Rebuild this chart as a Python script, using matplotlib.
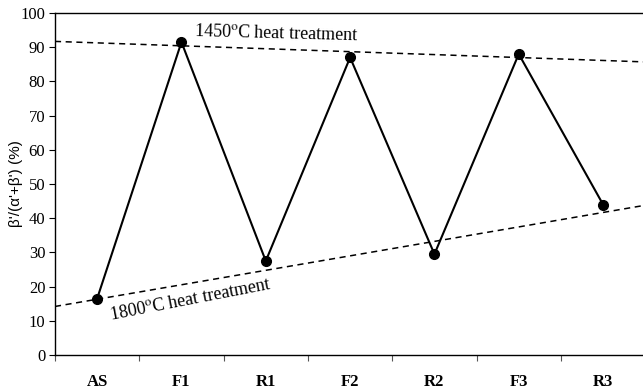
import matplotlib.pyplot as plt
import numpy as np

plt.rcParams['mathtext.fontset'] = 'stix'

# sample sequence and beta' fraction
samples = ['AS', 'F1', 'R1', 'F2', 'R2', 'F3', 'R3']
beta_frac = [16.5, 91.5, 27.5, 87.0, 29.5, 88.0, 44.0]

# dashed guide lines, values at the left and right plot edges
trend_x = [-0.5, 6.5]
trend_1450 = [91.7, 85.7]
trend_1800 = [14.2, 43.8]

fig = plt.figure(figsize=(6.43, 3.91), dpi=100)
ax = fig.add_axes([0.0855, 0.092, 0.918, 0.8747])

x = np.arange(len(samples))
ax.plot(x, beta_frac, color='black', lw=1.5, marker='o', markersize=7, zorder=3)
ax.plot(trend_x, trend_1450, color='black', lw=1.1, ls=(0, (4, 3)))
ax.plot(trend_x, trend_1800, color='black', lw=1.1, ls=(0, (4, 3)))

ax.text(2.12, 94.0, r'1450$^{\rm o}$C heat treatment', family='Liberation Serif',
        fontsize=13, ha='center', va='center', rotation=-1.5)
ax.text(1.1, 16.0, r'1800$^{\rm o}$C heat treatment', family='Liberation Serif',
        fontsize=13, ha='center', va='center', rotation=11)

ax.set_xlim(-0.5, 6.5)
ax.set_ylim(0, 100)
ax.set_yticks(range(0, 101, 10))
ax.set_xticks(np.arange(-0.5, 6.6, 1))
ax.set_xticklabels([])
ax.set_xticks(x, minor=True)
ax.set_xticklabels(samples, minor=True, family='Liberation Serif', fontweight='bold', fontsize=12)
ax.tick_params(axis='x', which='minor', length=0, pad=14)
ax.tick_params(axis='x', which='major', length=4, direction='out', color='#555555')
ax.tick_params(axis='y', length=4, direction='out', pad=3)
for lab in ax.get_yticklabels():
    lab.set_family('Liberation Serif')
    lab.set_fontsize(12)

ax.set_ylabel("β'/(α'+β') (%)", family='Liberation Sans', fontsize=11)
ax.yaxis.set_label_coords(-0.054, 0.5)
ax.spines['right'].set_visible(False)
for s in ['left', 'bottom', 'top']:
    ax.spines[s].set_linewidth(1.0)

fig.savefig('out.png', dpi=100)
